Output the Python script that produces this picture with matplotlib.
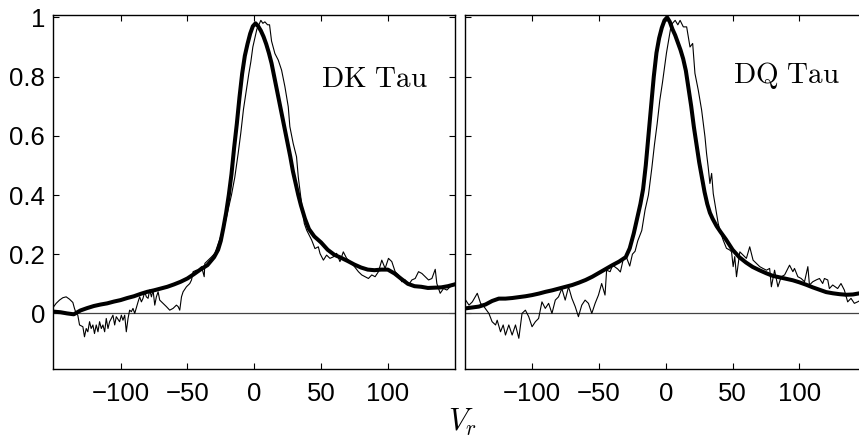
import matplotlib
matplotlib.use("Agg")
from matplotlib import pyplot as plt

plt.rcParams['mathtext.fontset'] = 'cm'
plt.rcParams['font.family'] = ['Liberation Sans', 'DejaVu Sans']

# ---- DK Tau ----
dk_thick_v = [-150, -145, -140, -135, -130, -125, -120, -115, -110, -105, -100, -95, -90, -85,
              -80, -75, -70, -65, -60, -55, -50, -45, -40, -35, -30, -27, -25, -23, -21, -19,
              -17, -15, -13, -11, -9, -7, -5, -3, -1, 1, 3, 5, 7, 9, 11, 13, 15, 17, 19, 21,
              23, 25, 27, 29, 31, 33, 35, 38, 41, 45, 50, 55, 60, 65, 70, 75, 80, 85, 90, 95,
              100, 105, 110, 115, 120, 125, 130, 135, 140, 145, 150]
dk_thick_f = [0.006, 0.004, 0.0, -0.003, 0.01, 0.018, 0.025, 0.03, 0.034, 0.04, 0.045, 0.052,
              0.058, 0.066, 0.073, 0.078, 0.084, 0.09, 0.098, 0.107, 0.118, 0.133, 0.149, 0.163,
              0.19, 0.215, 0.245, 0.29, 0.34, 0.40, 0.47, 0.56, 0.64, 0.73, 0.81, 0.87, 0.91,
              0.945, 0.97, 0.98, 0.97, 0.955, 0.935, 0.91, 0.88, 0.845, 0.80, 0.755, 0.71, 0.665,
              0.62, 0.575, 0.53, 0.48, 0.44, 0.40, 0.365, 0.32, 0.285, 0.26, 0.24, 0.215, 0.198,
              0.188, 0.177, 0.165, 0.155, 0.148, 0.146, 0.148, 0.148, 0.135, 0.117, 0.10, 0.092,
              0.09, 0.086, 0.087, 0.088, 0.092, 0.098]

dk_thin_v = [-150.5, -148.2, -145.7, -143.2, -140.7, -138.2, -135.7, -134.5, -133.2, -132,
             -130.7, -128.2, -127, -125.7, -124.5, -123.2, -122, -120.7, -119.5, -118.2,
             -116.9, -115.7, -114.4, -113.2, -111.9, -110.7, -109.4, -108.2, -106.9, -105.7,
             -104.4, -103.2, -100.7, -99.4, -98.2, -96.9, -95.7, -94.4, -93.2, -91.9, -90.7,
             -89.4, -86.9, -85.7, -84.4, -83.2, -81.9, -80.7, -79.4, -78.2, -76.9, -75.7,
             -74.4, -73.2, -71.9, -70.7, -68.2, -65.7, -63.2, -60.7, -58.2, -56.9, -55.7,
             -54.4, -53.2, -50.7, -48.2, -46.9, -45.7, -43.2, -41.9, -39.4, -37.4, -36.9,
             -34.4, -31.9, -29.4, -26.9, -24.4, -22, -19.5, -17, -14.5, -12, -10, -8, -6, -4,
             -2.5, -1, 0.5, 2, 3.5, 5, 6.5, 8, 10, 11.5, 13, 15.5, 18, 20.5, 23, 25.5, 26.7,
             29.2, 31.7, 33, 35.5, 37.5, 39.3, 43, 45.5, 48, 49.3, 51.8, 54.2, 56.7, 59.2,
             61.7, 64.2, 66.7, 69.2, 71.7, 74.2, 78, 80.5, 83, 85.5, 88, 90.5, 93, 95.5, 98,
             100.5, 103, 105.5, 108, 110.5, 113, 115.5, 118, 120.5, 123, 125.5, 128, 130.5,
             133, 135.5, 136.7, 139.2, 141.7, 144.2, 146.7, 149.2, 150.5]
dk_thin_f = [0.02, 0.034, 0.045, 0.053, 0.056, 0.048, 0.037, 0.017, 0.0, -0.006, -0.039, -0.045,
             -0.079, -0.051, -0.062, -0.028, -0.051, -0.039, -0.068, -0.039, -0.062, -0.028,
             -0.051, -0.039, -0.062, -0.017, -0.051, -0.028, -0.017, -0.006, -0.039, -0.011,
             -0.028, -0.006, -0.023, -0.006, -0.062, -0.017, 0.011, 0.006, 0.017, 0.0, 0.039,
             0.056, 0.039, 0.051, 0.073, 0.056, 0.051, 0.079, 0.056, 0.079, 0.028, 0.056,
             0.073, 0.045, 0.034, 0.023, 0.011, 0.017, 0.028, 0.023, 0.011, 0.056, 0.073,
             0.09, 0.101, 0.113, 0.141, 0.146, 0.146, 0.158, 0.124, 0.169, 0.18, 0.191, 0.203,
             0.236, 0.27, 0.30, 0.35, 0.40, 0.46, 0.54, 0.61, 0.69, 0.75, 0.81, 0.85, 0.90,
             0.93, 0.96, 0.975, 0.99, 0.98, 0.985, 0.975, 0.975, 0.92, 0.878, 0.856, 0.822,
             0.766, 0.698, 0.631, 0.574, 0.529, 0.461, 0.371, 0.304, 0.281, 0.248, 0.219,
             0.225, 0.202, 0.18, 0.197, 0.186, 0.191, 0.203, 0.175, 0.208, 0.186, 0.175, 0.163,
             0.141, 0.13, 0.124, 0.118, 0.13, 0.124, 0.141, 0.18, 0.152, 0.186, 0.175, 0.141,
             0.13, 0.107, 0.113, 0.096, 0.113, 0.118, 0.141, 0.135, 0.124, 0.113, 0.118, 0.149,
             0.101, 0.068, 0.084, 0.079, 0.09, 0.096, 0.1]

# ---- DQ Tau ----
dq_thick_v = [-150, -145, -140, -135, -130, -125, -120, -115, -110, -105, -100, -95, -90, -85,
              -80, -75, -70, -65, -60, -55, -50, -45, -40, -35, -30, -27, -24, -21, -19, -17,
              -15, -13, -11, -9, -7, -5, -3, -1, 1, 3, 5, 7, 9, 11, 13, 15, 17, 19, 21, 23,
              25, 27, 29, 31, 33, 35, 38, 41, 45, 50, 55, 60, 65, 70, 75, 80, 85, 90, 95, 100,
              105, 110, 115, 120, 125, 130, 135, 140, 145, 150]
dq_thick_f = [0.017, 0.02, 0.023, 0.03, 0.042, 0.05, 0.05, 0.052, 0.055, 0.058, 0.062, 0.067,
              0.073, 0.078, 0.084, 0.09, 0.096, 0.104, 0.113, 0.124, 0.137, 0.15, 0.163, 0.175,
              0.19, 0.22, 0.27, 0.33, 0.37, 0.42, 0.50, 0.60, 0.70, 0.80, 0.88, 0.93, 0.965,
              0.99, 1.0, 0.985, 0.96, 0.94, 0.915, 0.89, 0.86, 0.82, 0.76, 0.70, 0.63, 0.57,
              0.51, 0.46, 0.41, 0.37, 0.34, 0.32, 0.295, 0.275, 0.25, 0.215, 0.19, 0.172, 0.157,
              0.146, 0.136, 0.127, 0.122, 0.117, 0.112, 0.105, 0.097, 0.088, 0.08, 0.072, 0.068,
              0.065, 0.063, 0.064, 0.068, 0.07]

dq_thin_v = [-150.5, -149.8, -147.3, -144.8, -141.1, -138.6, -136.1, -132.4, -130, -127.4,
             -126.2, -123.7, -121.7, -120, -117.5, -115, -112.5, -110, -107.6, -105.1, -102.6,
             -100.1, -97.6, -95.2, -92.7, -90.2, -87.7, -85.2, -82.7, -80.3, -77.8, -75.3,
             -72.8, -70.3, -67.8, -65.4, -62.9, -60.4, -57.9, -55.4, -52.9, -50.4, -48, -45.5,
             -44.3, -41.7, -39.8, -36, -34, -32, -29.5, -27, -25, -23, -21, -18, -15.5, -13,
             -10.5, -8.5, -6.5, -4.5, -2.5, -1, 0.5, 2, 3.5, 5, 7, 9, 10.7, 13.1, 15.6, 18.1,
             20.1, 21.8, 24.3, 26.8, 29.3, 30.5, 31.7, 33, 34.3, 35.5, 38, 39.2, 40.5, 42.9,
             45.4, 47.9, 49.2, 50.4, 51.6, 52.9, 55.4, 57.8, 60.3, 62.8, 65.3, 67.8, 70.3,
             72.7, 75.3, 77.7, 79, 81.4, 83.9, 86.4, 88.9, 91.4, 92.6, 95.1, 96.3, 98.8, 101.3,
             103.8, 106.3, 107.5, 110, 112.5, 115, 117.4, 118.7, 121.2, 122.4, 124.9, 128.6,
             131.1, 133.6, 136.1, 138.6, 141.1, 143.5, 146, 150]
dq_thin_f = [0.04, 0.045, 0.028, 0.039, 0.068, 0.034, 0.023, 0.0, -0.028, -0.039, -0.023,
             -0.062, -0.039, -0.073, -0.039, -0.073, -0.039, -0.084, 0.0, 0.011, -0.011,
             -0.045, -0.028, -0.017, 0.039, 0.017, 0.034, 0.0, 0.045, 0.056, 0.084, 0.045,
             0.09, 0.051, 0.023, -0.011, 0.028, 0.045, 0.034, 0.0, 0.034, 0.062, 0.101, 0.062,
             0.146, 0.141, 0.163, 0.15, 0.14, 0.18, 0.19, 0.16, 0.2, 0.21, 0.245, 0.28, 0.35,
             0.40, 0.49, 0.57, 0.64, 0.72, 0.78, 0.83, 0.88, 0.92, 0.96, 0.98, 0.99, 0.975,
             0.99, 0.968, 0.968, 0.90, 0.912, 0.811, 0.754, 0.687, 0.597, 0.54, 0.495, 0.439,
             0.473, 0.405, 0.338, 0.304, 0.281, 0.248, 0.22, 0.214, 0.208, 0.158, 0.192, 0.124,
             0.208, 0.197, 0.186, 0.225, 0.18, 0.169, 0.158, 0.152, 0.146, 0.152, 0.09, 0.146,
             0.09, 0.124, 0.13, 0.152, 0.163, 0.141, 0.152, 0.124, 0.118, 0.107, 0.158, 0.096,
             0.107, 0.113, 0.118, 0.101, 0.118, 0.113, 0.084, 0.096, 0.084, 0.101, 0.079, 0.039,
             0.051, 0.034, 0.039, 0.045, 0.05]

names = ['DK Tau', 'DQ Tau']
x_ticks = [-100, -50, 0, 50, 100]
x_labels = ['\u2212100', '\u221250', '0', '50', '100']
y_ticks = [0, 0.2, 0.4, 0.6, 0.8, 1]
y_labels = ['0', '0.2', '0.4', '0.6', '0.8', '1']


def plot_panel(ax, thin_v, thin_f, thick_v, thick_f, name, label_y):
    ax.axhline(0, color='#444444', lw=0.9)
    ax.plot(thin_v, thin_f, color='k', lw=0.8)
    ax.plot(thick_v, thick_f, color='k', lw=2.9)
    ax.set_xlim(-150.3, 150.3)
    ax.set_ylim(-0.188, 1.008)
    ax.set_xticks(x_ticks)
    ax.set_xticklabels(x_labels)
    ax.set_yticks(y_ticks)
    ax.tick_params(direction='in', top=True, right=True, length=4, width=0.8,
                   labelsize=18.5, pad=6)
    ax.tick_params(axis='x', pad=9)
    for sp in ax.spines.values():
        sp.set_linewidth(1.0)
    ax.text(50, label_y, r'$\mathrm{' + name.replace(' ', r'\ ') + '}$',
            fontsize=21, ha='left', va='baseline')


fig = plt.figure(figsize=(8.59, 4.42), dpi=100)
ax1 = fig.add_axes([0.0621, 0.165, 0.4676, 0.801])
ax2 = fig.add_axes([0.5413, 0.165, 0.4676, 0.801])

plot_panel(ax1, dk_thin_v, dk_thin_f, dk_thick_v, dk_thick_f, names[0], 0.765)
ax1.set_yticklabels(y_labels)
plot_panel(ax2, dq_thin_v, dq_thin_f, dq_thick_v, dq_thick_f, names[1], 0.777)
ax2.set_yticklabels([])

fig.text(0.538, 0.045, r'$V_r$', fontsize=22, ha='center', va='center')

fig.savefig('out.png', dpi=100)
